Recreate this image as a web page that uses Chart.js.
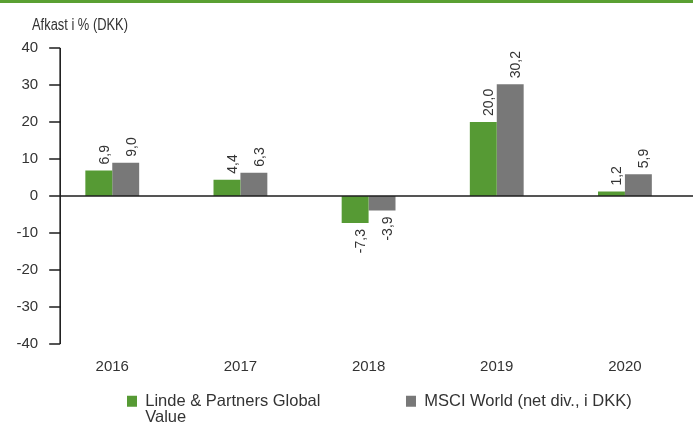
<!DOCTYPE html>
<html>
<head>
<meta charset="utf-8">
<script src="https://cdn.jsdelivr.net/npm/chart.js@4.4.1/dist/chart.umd.min.js"></script>
<style>
html,body{margin:0;padding:0;background:#ffffff;}
#wrap{width:693px;height:426px;position:relative;}
</style>
</head>
<body>
<div id="wrap"><canvas id="c"></canvas></div>
<script>
// ---- data ----
const categories = ['2016', '2017', '2018', '2019', '2020'];
const seriesNames = ['Linde & Partners Global Value', 'MSCI World (net div., i DKK)'];
const lindeValues = [6.9, 4.4, -7.3, 20.0, 1.2];
const msciValues = [9.0, 6.3, -3.9, 30.2, 5.9];
const yTickValues = [40, 30, 20, 10, 0, -10, -20, -30, -40];
const legendLines = [['Linde & Partners Global', 'Value'], ['MSCI World (net div., i DKK)']];
const axisTitle = 'Afkast i % (DKK)';

const FONT = '"Liberation Sans", Arial, Helvetica, sans-serif';
const TEXT = '#333333';
const GREEN = '#569a34';
const GREY = '#787878';

const fmt = v => v.toFixed(1).replace('.', ',');

const decor = {
  id: 'decor',
  afterLayout(chart) {
    const lg = chart.legend;
    if (!lg || !lg.lineWidths) return;
    const p = lg.options.labels.padding;
    const start = (lg.left + p + lg.right - lg.lineWidths[0]) / 2;
    const dx = 127 - start;
    lg.left += dx; lg.right += dx; lg.width = lg.right - lg.left;
    lg.top = 393 - p; lg.bottom = chart.height; lg.height = lg.bottom - lg.top;
  },
  beforeDraw(chart) {
    const ctx = chart.ctx;
    ctx.save();
    ctx.fillStyle = '#5aa032';
    ctx.fillRect(0, 0, chart.width, 3);
    // axis title (narrow, as in the original)
    ctx.font = '16px ' + FONT;
    const w = ctx.measureText(axisTitle).width;
    const sx = Math.min(1, 96 / w);
    ctx.fillStyle = TEXT;
    ctx.textBaseline = 'alphabetic';
    ctx.textAlign = 'left';
    ctx.translate(32, 30);
    ctx.scale(sx, 1);
    ctx.fillText(axisTitle, 0, 0);
    ctx.restore();
  },
  afterDatasetsDraw(chart) {
    const {ctx, chartArea, scales} = chart;
    const y = scales.y;
    const axX = chartArea.left + 12;
    ctx.save();
    ctx.strokeStyle = '#1e1e1e';
    ctx.lineWidth = 1.6;
    ctx.beginPath();
    ctx.moveTo(axX, y.getPixelForValue(yTickValues[0]));
    ctx.lineTo(axX, y.getPixelForValue(yTickValues[yTickValues.length - 1]));
    yTickValues.forEach(v => {
      const py = y.getPixelForValue(v);
      ctx.moveTo(chartArea.left + 1, py);
      ctx.lineTo(axX, py);
    });
    const y0 = y.getPixelForValue(0);
    ctx.moveTo(axX, y0);
    ctx.lineTo(chart.width, y0);
    ctx.stroke();

    ctx.fillStyle = TEXT;
    ctx.font = '14px ' + FONT;
    ctx.textBaseline = 'alphabetic';
    chart.data.datasets.forEach((ds, di) => {
      const meta = chart.getDatasetMeta(di);
      meta.data.forEach((bar, i) => {
        const v = ds.data[i];
        const txt = fmt(v);
        ctx.save();
        if (v >= 0) {
          ctx.translate(bar.x, bar.y - 6);
          ctx.rotate(-Math.PI / 2);
          ctx.textAlign = 'left';
        } else {
          ctx.translate(bar.x, bar.y + 6);
          ctx.rotate(-Math.PI / 2);
          ctx.textAlign = 'right';
        }
        ctx.fillText(txt, 0, 10);
        ctx.restore();
      });
    });
    ctx.restore();
  }
};

new Chart(document.getElementById('c'), {
  type: 'bar',
  data: {
    labels: categories,
    datasets: [
      { label: seriesNames[0], data: lindeValues, backgroundColor: GREEN, borderWidth: 0 },
      { label: seriesNames[1], data: msciValues, backgroundColor: GREY, borderWidth: 0 }
    ]
  },
  options: {
    responsive: true,
    maintainAspectRatio: false,
    animation: false,
    events: [],
    layout: { padding: { top: 48, left: 6.5, right: 4, bottom: 0 } },
    datasets: { bar: { categoryPercentage: 0.42, barPercentage: 1.0 } },
    scales: {
      x: {
        grid: { display: false, drawTicks: false },
        border: { display: false },
        ticks: { color: TEXT, font: { family: FONT, size: 15 }, padding: 14 },
        afterFit: s => { s.height = 36; }
      },
      y: {
        min: -40, max: 40,
        afterBuildTicks: s => { s.ticks = yTickValues.map(v => ({ value: v })); },
        grid: { display: false, drawTicks: false },
        border: { display: false },
        ticks: { color: TEXT, font: { family: FONT, size: 15 }, padding: 10, callback: v => String(v) }
      }
    },
    plugins: {
      tooltip: { enabled: false },
      legend: {
        position: 'bottom',
        align: 'center',
        maxHeight: 46,
        labels: {
          boxWidth: 10,
          boxHeight: 11,
          padding: 40,
          color: TEXT,
          font: { family: FONT, size: 16.5, lineHeight: 1 },
          generateLabels: chart => chart.data.datasets.map((ds, i) => ({
            text: legendLines[i],
            fillStyle: ds.backgroundColor,
            strokeStyle: ds.backgroundColor,
            lineWidth: 0,
            hidden: false,
            datasetIndex: i,
            fontColor: TEXT
          }))
        }
      }
    }
  },
  plugins: [decor]
});
</script>
</body>
</html>
